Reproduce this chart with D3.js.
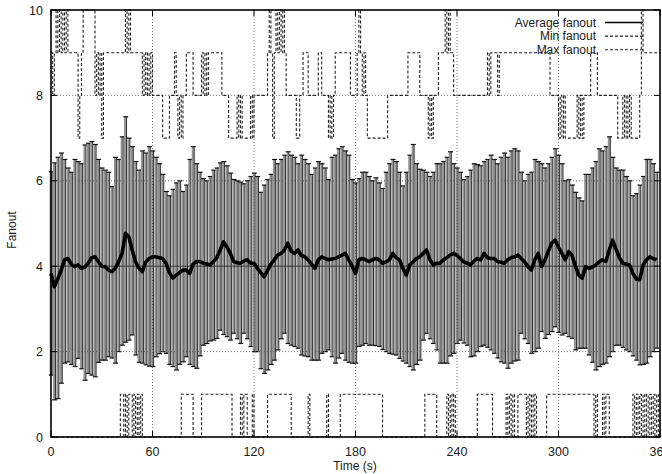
<!DOCTYPE html>
<html><head><meta charset="utf-8">
<script src="https://cdn.jsdelivr.net/npm/d3@7"></script>
<style>
body{margin:0;background:#fff}
svg{display:block}
text{font-family:"Liberation Sans",Arial,Helvetica,sans-serif;font-size:12px;fill:#1a1a1a}
</style>
</head><body>
<svg id="chart" width="662" height="474"></svg>
<script>
// ---- data ----
const times = [0,2,4,6,8,10,12,14,16,18,20,22,24,26,28,30,32,34,36,38,40,42,44,46,48,50,52,54,56,58,
60,62,64,66,68,70,72,74,76,78,80,82,84,86,88,90,92,94,96,98,100,102,104,106,108,110,112,114,116,118,
120,122,124,126,128,130,132,134,136,138,140,142,144,146,148,150,152,154,156,158,160,162,164,166,168,170,172,174,176,178,
180,182,184,186,188,190,192,194,196,198,200,202,204,206,208,210,212,214,216,218,220,222,224,226,228,230,232,234,236,238,
240,242,244,246,248,250,252,254,256,258,260,262,264,266,268,270,272,274,276,278,280,282,284,286,288,290,292,294,296,298,
300,302,304,306,308,310,312,314,316,318,320,322,324,326,328,330,332,334,336,338,340,342,344,346,348,350,352,354,356,358];

const avgFanout = [3.83,3.52,3.70,3.90,4.15,4.18,4.05,3.99,4.03,3.95,3.98,4.07,4.20,4.22,4.11,4.00,3.99,3.91,3.87,3.95,
4.11,4.30,4.77,4.69,4.38,4.10,3.95,3.87,4.10,4.18,4.22,4.22,4.20,4.18,4.07,3.85,3.72,3.79,3.85,3.91,
3.91,3.83,4.05,4.11,4.11,4.07,4.05,4.03,4.10,4.20,4.38,4.57,4.45,4.30,4.11,4.08,4.07,4.12,4.15,4.07,
4.07,3.95,3.85,3.75,3.90,4.05,4.15,4.26,4.30,4.38,4.54,4.35,4.30,4.38,4.25,4.22,4.15,4.05,3.95,4.15,
4.22,4.18,4.15,4.17,4.18,4.22,4.26,4.30,4.15,4.00,3.83,4.15,4.18,4.15,4.11,4.15,4.18,4.15,4.07,4.10,
4.15,4.30,4.20,4.15,3.95,3.79,4.03,4.10,4.18,4.22,4.30,4.38,4.15,4.03,4.07,4.07,4.15,4.20,4.26,4.30,
4.25,4.18,4.10,4.07,4.03,4.12,4.18,4.15,4.30,4.20,4.18,4.18,4.11,4.09,4.07,4.15,4.20,4.22,4.26,4.18,
4.10,3.99,3.91,4.15,4.30,3.99,4.15,4.35,4.54,4.61,4.45,4.30,4.15,4.34,4.25,4.00,3.79,3.72,3.99,3.95,
3.98,4.03,4.10,4.15,4.11,4.38,4.61,4.40,4.20,4.07,4.05,4.03,3.83,3.70,3.68,4.03,4.15,4.22,4.18,4.15];

const upperFanout = [6.21,6.42,6.55,6.65,6.50,6.30,6.20,6.50,6.45,6.40,6.84,6.88,6.92,6.85,6.50,6.30,6.25,6.20,5.86,6.55,
6.50,7.03,7.50,7.00,6.80,6.45,6.25,6.70,6.65,6.80,6.70,6.55,6.40,6.15,5.75,5.65,5.80,5.95,6.00,5.75,
5.90,6.50,6.80,6.40,6.20,6.05,6.00,6.10,6.25,6.30,6.42,6.45,6.35,6.18,6.03,6.00,5.97,5.93,6.00,6.10,
6.18,6.10,5.73,5.90,6.03,6.15,6.50,6.40,6.50,6.60,6.68,6.60,6.55,6.40,6.60,6.50,6.40,6.15,6.30,6.45,
6.40,6.30,6.03,6.55,6.60,6.75,6.80,6.70,6.60,6.03,5.95,6.05,6.20,6.20,6.10,6.00,6.07,5.95,5.82,6.20,
6.40,6.50,6.45,6.20,5.88,6.20,6.60,6.85,6.40,6.27,6.25,6.20,6.10,6.20,6.40,6.40,6.45,6.55,6.68,6.40,
6.30,6.20,6.03,6.10,6.25,6.40,6.38,6.35,6.45,6.50,6.60,6.50,6.40,6.55,6.65,6.55,6.70,6.75,6.70,6.20,
6.00,6.15,6.20,6.50,6.45,6.40,6.30,6.40,6.55,6.75,6.60,6.40,6.00,6.03,5.90,5.73,5.60,5.53,6.15,6.15,
6.30,6.45,6.75,6.70,6.80,7.03,6.55,6.30,6.25,6.25,6.10,6.00,5.65,5.70,5.90,6.10,6.50,6.50,6.40,6.20];

const lowerFanout = [1.45,0.87,0.90,1.26,1.73,1.76,1.70,1.65,1.84,1.60,1.33,1.49,1.45,1.41,1.75,1.80,1.80,1.88,1.85,1.73,
2.00,2.15,2.22,2.27,2.39,1.92,1.75,1.73,1.69,1.66,1.65,1.88,1.95,2.00,1.96,1.70,1.65,1.57,1.70,1.76,
1.88,1.70,1.65,1.61,1.90,2.15,2.19,2.25,2.27,2.31,2.50,2.40,2.35,2.27,2.43,2.30,2.19,2.43,2.30,2.12,
2.00,2.00,1.60,1.49,1.57,1.70,1.80,2.04,2.30,2.43,2.19,2.15,2.12,2.08,1.92,1.90,1.88,1.80,1.80,1.80,
1.96,2.00,2.04,1.88,1.73,1.85,1.96,1.80,1.75,1.73,1.73,2.12,2.15,2.19,2.15,2.15,2.14,2.12,2.05,2.00,
1.96,1.94,1.92,1.84,1.78,1.73,1.65,1.57,1.70,1.80,2.27,2.43,2.30,2.19,2.04,1.73,1.73,1.73,1.90,1.96,
2.19,2.27,2.20,2.15,1.88,1.90,2.00,2.12,2.15,2.10,2.04,1.96,1.85,1.76,1.73,1.61,1.73,1.78,1.80,2.43,
2.30,2.19,1.96,2.00,2.08,2.47,2.31,2.40,2.47,2.58,2.45,2.39,2.43,2.35,2.31,2.04,2.08,2.08,2.08,1.92,
1.75,1.57,1.65,1.70,1.73,1.88,2.00,2.15,2.15,2.10,2.04,2.00,1.90,1.80,1.69,1.70,1.73,1.88,2.00,2.08];

// step series: change times (s) and the level held from that time on
const maxTimes  = [0,1,2,3,4,5,6,7,8,9,10,16,17,18,19,26,27,28,29,30,31,44,45,46,47,53,54,55,56,57,58,59,60,66,70,73,74,75,76,77,78,80,84,89,90,91,92,93,
101,105,110,111,112,113,118,119,120,128,129,130,131,132,133,134,135,136,137,138,139,145,147,149,152,158,160,164,165,166,167,168,177,181,182,183,184,185,186,187,199,211,218,223,224,225,226,229,233,234,235,236,238,
258,259,260,264,265,295,300,301,302,303,304,311,312,313,314,315,319,323,335,338,339,340,341,342,343,348,349,350,360];
const maxLevels = [9,8,9,10,9,10,9,10,9,10,9,7,8,9,10,8,9,8,9,7,9,10,9,10,9,9,8,9,8,9,8,9,8,7,8,9,8,7,8,7,8,9,8,9,8,9,8,9,
8,7,8,7,8,7,8,7,8,9,10,9,7,9,10,9,10,9,10,9,8,7,8,9,8,9,8,7,8,7,8,9,8,9,10,9,8,9,8,7,8,9,8,7,8,7,8,9,10,9,10,9,8,
9,8,9,8,9,8,7,8,7,8,7,8,7,8,7,8,9,8,7,8,7,8,7,8,7,8,10,9,9];

const minTimes  = [0,41,43,44,45,46,48,49,50,51,52,53,54,77,84,89,107,112,113,114,116,119,120,128,142,152,153,163,164,171,196,221,228,234,235,236,237,238,239,
252,261,269,270,271,272,273,274,276,281,282,283,284,285,286,287,293,321,322,323,326,327,328,330,344,345,346,347,348,349,350,351,352,353,354,355,356,357,358,359,360];
const minLevels = [0,1,0,1,0,1,0,1,0,1,0,1,0,1,0,1,0,1,0,1,0,1,0,1,0,1,0,1,0,1,0,1,0,1,0,1,0,1,0,
1,0,1,0,1,0,1,0,1,0,1,0,1,0,1,0,1,0,1,0,1,0,1,0,1,0,1,0,1,0,1,0,1,0,1,0,1,0,1,0,0];

const xTicks = [0,60,120,180,240,300,360];
const yTicks = [0,2,4,6,8,10];
const legendLabels = ["Average fanout","Min fanout","Max fanout"];

// ---- drawing ----
const svg = d3.select("#chart");
const L = 51, R = 660, T = 10, B = 437;
const x = d3.scaleLinear().domain([0,360]).range([L,R]);
const y = d3.scaleLinear().domain([0,10]).range([B,T]);

// error bars
const bars = svg.append("g");
times.forEach((t,i)=>{
  const xi = x(t);
  bars.append("line").attr("x1",xi-0.3).attr("x2",xi-0.3)
    .attr("y1",y(lowerFanout[i])).attr("y2",y(upperFanout[i]))
    .attr("stroke","#959595").attr("stroke-width",2.2);
  bars.append("line").attr("x1",xi+1.1).attr("x2",xi+1.1)
    .attr("y1",y(lowerFanout[i])).attr("y2",y(upperFanout[i]))
    .attr("stroke","#1a1a1a").attr("stroke-width",0.9);
  [upperFanout[i],lowerFanout[i]].forEach(v=>{
    bars.append("line").attr("x1",xi-2.2).attr("x2",xi+2.8)
      .attr("y1",y(v)).attr("y2",y(v))
      .attr("stroke","#111").attr("stroke-width",1.2);
  });
});

// grid
const grid = svg.append("g").attr("stroke","#555").attr("stroke-width",0.8);
xTicks.filter(t=>t>0&&t<360).forEach(t=>{
  grid.append("line").attr("x1",x(t)).attr("x2",x(t)).attr("y1",B).attr("y2",T)
    .attr("stroke-dasharray","1,2");
});
yTicks.filter(v=>v>0&&v<10).forEach(v=>{
  grid.append("line").attr("x1",L).attr("x2",R).attr("y1",y(v)).attr("y2",y(v))
    .attr("stroke-dasharray", v===4 ? null : "1,2").attr("stroke", v===4 ? "#222" : "#555");
});

// average line
svg.append("path")
  .datum(times.map((t,i)=>[t,avgFanout[i]]))
  .attr("fill","none").attr("stroke","#000").attr("stroke-width",3.6)
  .attr("stroke-linejoin","round")
  .attr("d", d3.line().x(d=>x(d[0])).y(d=>y(d[1])));

// min / max step lines
const step = d3.line().curve(d3.curveStepAfter).x(d=>x(d[0])).y(d=>y(d[1]));
svg.append("path")
  .datum(minTimes.map((t,i)=>[t,minLevels[i]]))
  .attr("fill","none").attr("stroke","#222").attr("stroke-width",1.1)
  .attr("stroke-dasharray","3,2").attr("d",step);
svg.append("path")
  .datum(maxTimes.map((t,i)=>[t,maxLevels[i]]))
  .attr("fill","none").attr("stroke","#222").attr("stroke-width",1.1)
  .attr("stroke-dasharray","3,2").attr("d",step);

// frame
svg.append("rect").attr("x",L).attr("y",T).attr("width",R-L).attr("height",B-T)
  .attr("fill","none").attr("stroke","#000").attr("stroke-width",1.6);

// ticks
const tk = svg.append("g").attr("stroke","#000").attr("stroke-width",1);
xTicks.forEach(t=>{
  tk.append("line").attr("x1",x(t)).attr("x2",x(t)).attr("y1",B).attr("y2",B-6);
  tk.append("line").attr("x1",x(t)).attr("x2",x(t)).attr("y1",T).attr("y2",T+6);
});
yTicks.forEach(v=>{
  tk.append("line").attr("x1",L).attr("x2",L+6).attr("y1",y(v)).attr("y2",y(v));
  tk.append("line").attr("x1",R).attr("x2",R-6).attr("y1",y(v)).attr("y2",y(v));
});

// tick labels
xTicks.forEach(t=>{
  svg.append("text").attr("x",x(t)).attr("y",455.5).attr("text-anchor","middle")
    .style("font-size","12.5px").text(t);
});
yTicks.forEach(v=>{
  svg.append("text").attr("x",43).attr("y",y(v)+4.5).attr("text-anchor","end")
    .style("font-size","12.5px").text(v);
});

// axis titles
svg.append("text").attr("transform","translate(16,230) rotate(-90)").attr("text-anchor","middle").text("Fanout");
svg.append("text").attr("x",355).attr("y",470).attr("text-anchor","middle").text("Time (s)");

// legend
const lg = svg.append("g");
legendLabels.forEach((lab,i)=>{
  const cy = 22.5 + i*13.6;
  lg.append("text").attr("x",596).attr("y",cy+4.2).attr("text-anchor","end")
    .style("font-size","12px").text(lab);
  lg.append("line").attr("x1",605).attr("x2",643).attr("y1",cy).attr("y2",cy)
    .attr("stroke", i===0 ? "#000" : "#222").attr("stroke-width", i===0 ? 1.5 : 1.1)
    .attr("stroke-dasharray", i===0 ? null : "3,2");
});
</script>
</body></html>
